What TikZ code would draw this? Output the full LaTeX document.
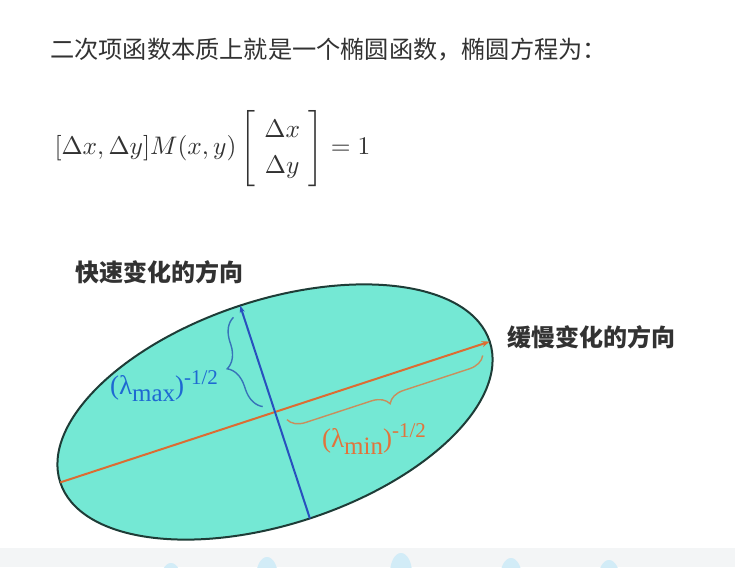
\documentclass[tikz,border=0pt]{standalone}
\usepackage{fontspec}
\usepackage{amsmath}
\usetikzlibrary{decorations.pathreplacing,arrows.meta}
\newfontfamily\cjk{Noto Sans CJK SC}
\newfontfamily\tnr{Liberation Serif}
\definecolor{ellfill}{RGB}{116,232,212}
\definecolor{ellline}{RGB}{30,60,55}
\definecolor{axblue}{RGB}{40,80,190}
\definecolor{axorange}{RGB}{220,108,50}
\definecolor{lblblue}{RGB}{30,105,210}
\definecolor{lblorange}{RGB}{225,115,60}
\definecolor{braceblue}{RGB}{55,115,185}
\definecolor{braceorange}{RGB}{200,142,92}
\definecolor{txt}{RGB}{50,50,50}
\definecolor{band}{RGB}{243,245,246}
\definecolor{bump}{RGB}{210,236,247}
\newcommand{\lamlabel}[2]{{\tnr\fontsize{27}{30}\selectfont (λ\raisebox{-7pt}{\fontsize{25}{27}\selectfont #1})\raisebox{10pt}{\fontsize{21}{23}\selectfont #2}}}
\begin{document}
\begin{tikzpicture}[x=1pt,y=-1pt,
  cjktext/.style={font=\cjk\fontsize{24.2}{28}\selectfont, text=txt, inner sep=0pt},
  dirlabel/.style={font=\cjk\bfseries\fontsize{24}{28}\selectfont, text=txt, inner sep=0pt},
  axisline/.style={line width=2pt},
  bracepath/.style={decorate, line width=1.4pt},
  lambdalabel/.style={inner sep=0pt}]
\useasboundingbox (0,0) rectangle (735,567);
\fill[white] (0,0) rectangle (735,567);
% bottom band
\fill[band] (0,548) rectangle (735,567);
\begin{scope}
\clip (0,548) rectangle (735,567);
\foreach \bx/\by in {171/563, 267/557, 401/553, 511/558, 609/560}
  \fill[bump] (\bx,\by+20) ellipse [x radius=11, y radius=20];
\end{scope}
% title and equation
\node[cjktext, anchor=west] (title) at (50,50) {二次项函数本质上就是一个椭圆函数，椭圆方程为：};
\node[anchor=west, inner sep=0pt, text=txt, scale=2.54] (eq) at (54,148.5)
  {\renewcommand{\arraystretch}{1.15}\setlength{\arraycolsep}{3.5pt}$[\Delta x,\Delta y]M(x,y)\left[\begin{array}{c}\Delta x\\ \Delta y\end{array}\right]=1$};
% ellipse
\begin{scope}[shift={(275,412)}, rotate=18.15]
  \draw[ellline, line width=2pt, fill=ellfill] (0,0) ellipse [x radius=226, y radius=112];
  \coordinate (L) at (-226,0);
  \coordinate (R) at (226,0);
  \coordinate (T) at (0,-112);
  \coordinate (B) at (0,112);
  \coordinate (bb1) at (-10,-9);
  \coordinate (bb2) at (-10,-103);
  \coordinate (ob1) at (9,11);
  \coordinate (ob2) at (215,11);
  \draw[axisline, axorange, -{Stealth[length=8pt,width=6pt]}] (L) -- (R);
  \draw[axisline, axblue, -{Stealth[length=7pt,width=5pt]}] (B) -- (T);
  \draw[bracepath, braceblue, decoration={brace, amplitude=22pt}] (bb1) -- (bb2);
  \draw[bracepath, braceorange, decoration={brace, amplitude=17pt, mirror}] (ob1) -- (ob2);
\end{scope}
% labels
\node[dirlabel, anchor=west] (fast) at (75,272) {快速变化的方向};
\node[dirlabel, anchor=west] (slow) at (507,337) {缓慢变化的方向};
\node[lambdalabel, text=lblblue] (lmax) at (164,386) {\lamlabel{max}{-1/2}};
\node[lambdalabel, text=lblorange] (lmin) at (374,439) {\lamlabel{min}{-1/2}};
\end{tikzpicture}
\end{document}
